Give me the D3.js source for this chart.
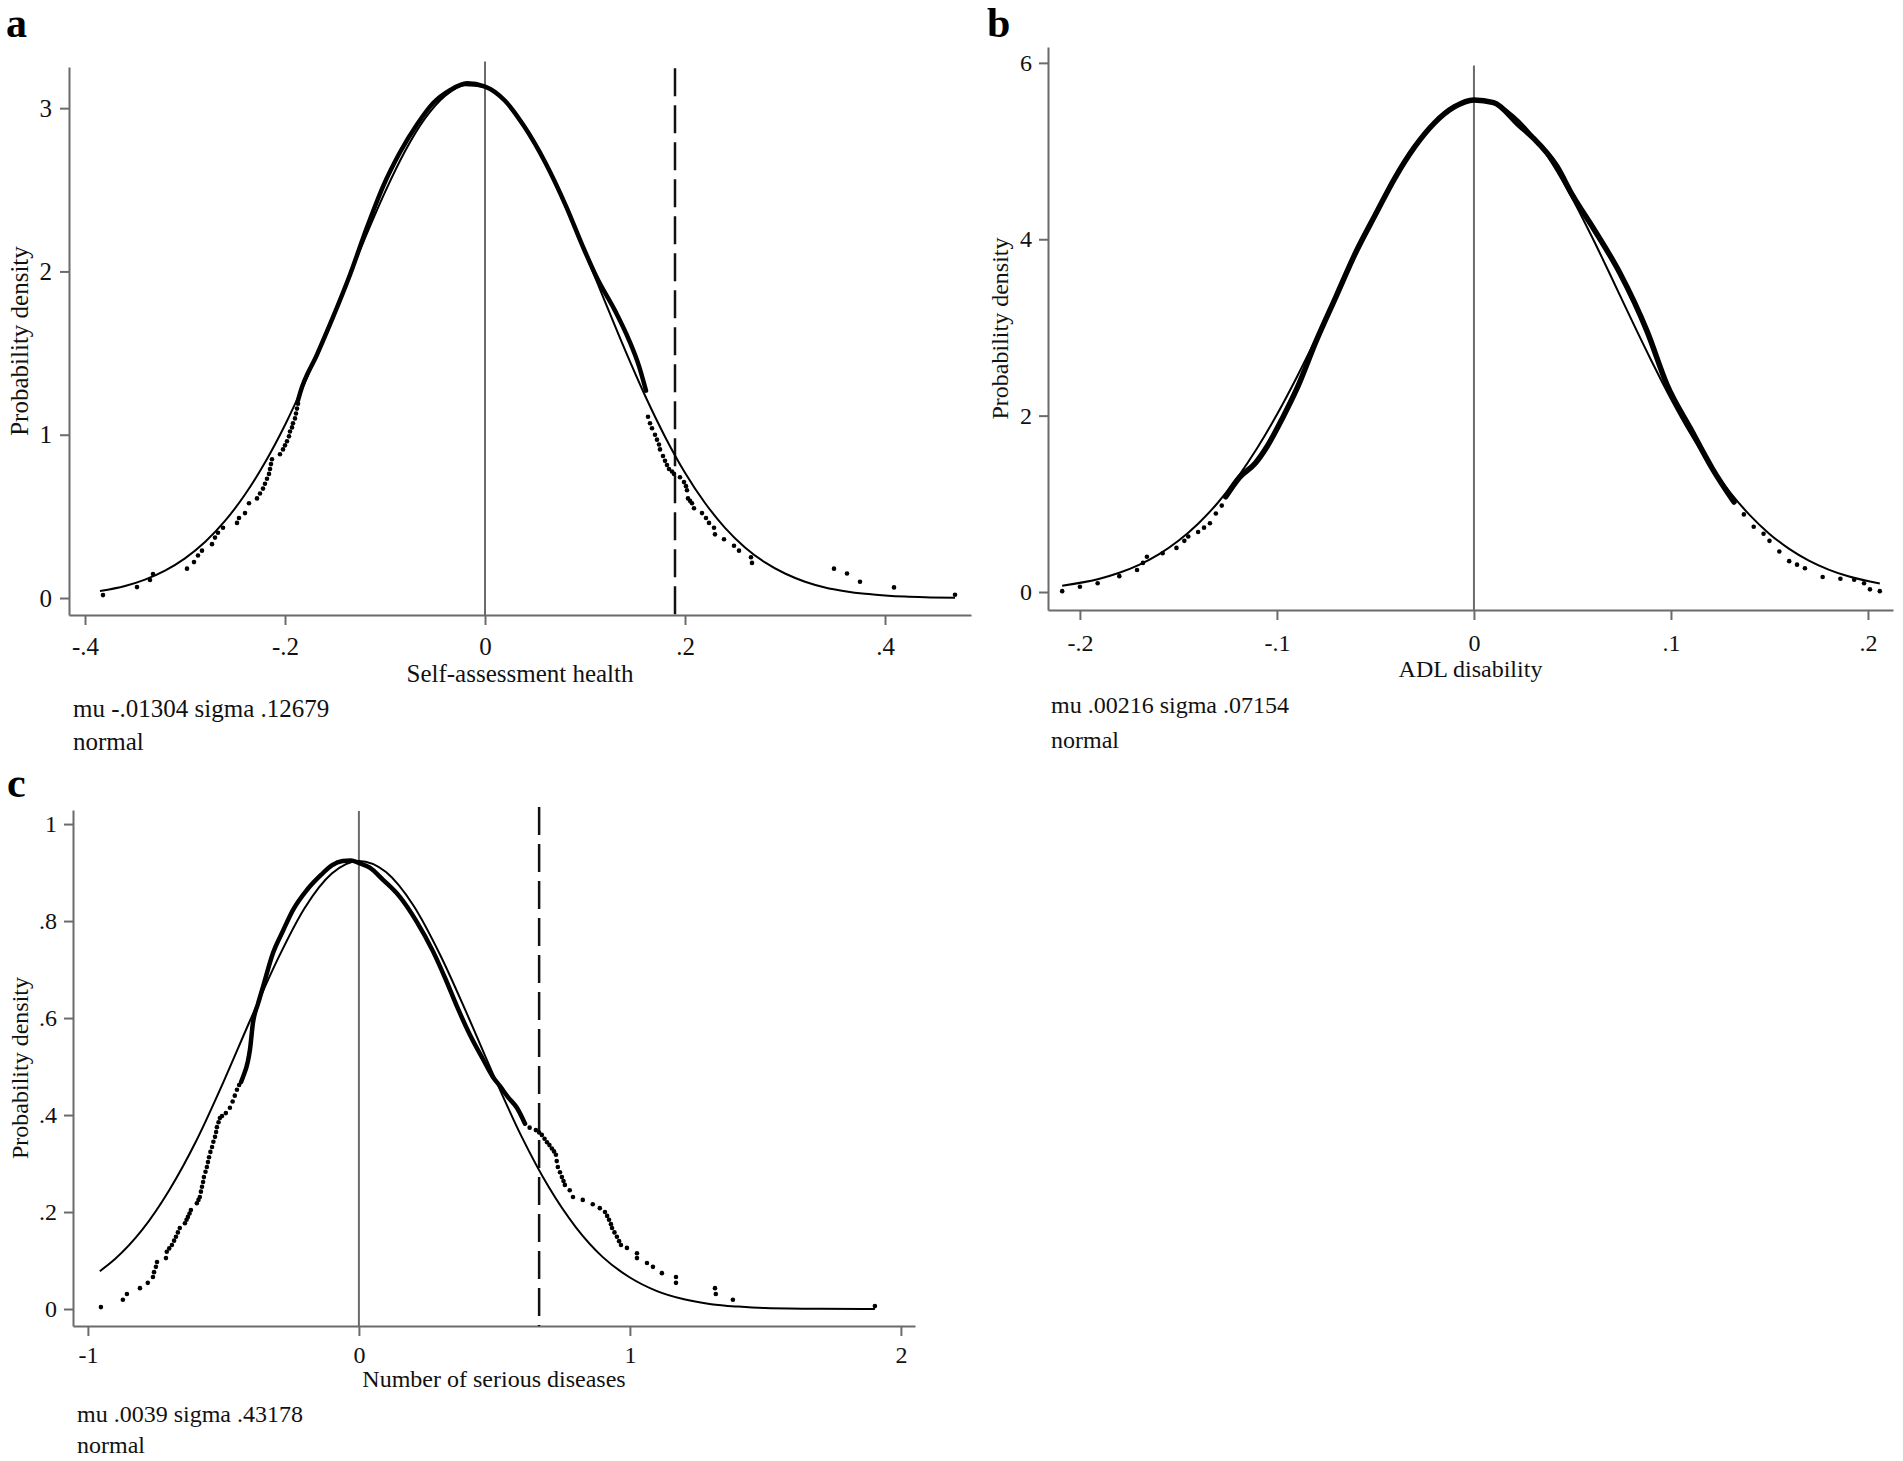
<!DOCTYPE html>
<html>
<head>
<meta charset="utf-8">
<script src="https://cdn.jsdelivr.net/npm/d3@7"></script>
<style>
  body { margin: 0; background: #fff; }
</style>
</head>
<body>
<div id="chart"></div>
<script>
// ---- panel a: self-assessment health ----
const aXTicks = [-0.4, -0.2, 0, 0.2, 0.4];
const aXLabels = ["-.4", "-.2", "0", ".2", ".4"];
const aYTicks = [0, 1, 2, 3];
const aYLabels = ["0", "1", "2", "3"];
const aNormX = [-0.385, -0.36, -0.34, -0.32, -0.30, -0.28, -0.26, -0.24, -0.22, -0.20, -0.18, -0.16, -0.14, -0.12, -0.10, -0.08, -0.06, -0.04, -0.02, 0, 0.02, 0.04, 0.06, 0.08, 0.10, 0.12, 0.14, 0.16, 0.18, 0.20, 0.22, 0.24, 0.26, 0.28, 0.30, 0.32, 0.34, 0.36, 0.38, 0.40, 0.42, 0.44, 0.47];
const aNormY = [0.043, 0.074, 0.113, 0.168, 0.243, 0.343, 0.472, 0.634, 0.830, 1.060, 1.322, 1.607, 1.905, 2.204, 2.486, 2.736, 2.937, 3.075, 3.141, 3.129, 3.041, 2.883, 2.666, 2.404, 2.115, 1.815, 1.519, 1.240, 0.988, 0.767, 0.582, 0.430, 0.310, 0.218, 0.150, 0.100, 0.065, 0.042, 0.026, 0.016, 0.009, 0.005, 0.002];
const aLineX = [-0.187, -0.185, -0.168, -0.152, -0.135, -0.118, -0.102, -0.085, -0.068, -0.052, -0.035, -0.018, 0.0, 0.02, 0.039, 0.060, 0.081, 0.098, 0.112, 0.130, 0.144, 0.154, 0.161];
const aLineY = [1.21, 1.254, 1.49, 1.72, 1.98, 2.27, 2.52, 2.73, 2.90, 3.03, 3.11, 3.152, 3.132, 3.045, 2.89, 2.67, 2.40, 2.15, 1.96, 1.76, 1.58, 1.42, 1.27];
const aDotX = [-0.382, -0.348, -0.335, -0.332, -0.298, -0.291, -0.287, -0.283, -0.273, -0.270, -0.267, -0.262, -0.248, -0.246, -0.240, -0.236, -0.228, -0.225, -0.222, -0.220, -0.218, -0.216, -0.215, -0.214, -0.213, -0.205, -0.202, -0.200, -0.198, -0.196, -0.195, -0.193, -0.192, -0.190, -0.189, -0.188, -0.187,
  0.163, 0.165, 0.167, 0.170, 0.172, 0.174, 0.175, 0.178, 0.180, 0.182, 0.184, 0.187, 0.189, 0.195, 0.199, 0.201, 0.202, 0.203, 0.205, 0.207, 0.209, 0.217, 0.221, 0.224, 0.229, 0.230, 0.239, 0.249, 0.254, 0.266, 0.267, 0.349, 0.362, 0.375, 0.409, 0.47];
const aDotY = [0.018, 0.067, 0.110, 0.147, 0.180, 0.220, 0.260, 0.290, 0.330, 0.370, 0.400, 0.430, 0.460, 0.490, 0.520, 0.580, 0.610, 0.640, 0.670, 0.700, 0.730, 0.760, 0.790, 0.820, 0.850, 0.880, 0.910, 0.935, 0.960, 0.990, 1.020, 1.045, 1.070, 1.100, 1.130, 1.160, 1.190,
  1.11, 1.07, 1.04, 1.00, 0.97, 0.94, 0.91, 0.87, 0.84, 0.815, 0.79, 0.775, 0.76, 0.74, 0.71, 0.685, 0.66, 0.61, 0.595, 0.58, 0.55, 0.52, 0.49, 0.46, 0.43, 0.39, 0.36, 0.32, 0.29, 0.25, 0.215, 0.18, 0.15, 0.10, 0.065, 0.02];
const aDashX = 0.19;
const aXTitle = "Self-assessment health";
const aNote = "mu -.01304 sigma .12679";

// ---- panel b: ADL disability ----
const bXTicks = [-0.2, -0.1, 0, 0.1, 0.2];
const bXLabels = ["-.2", "-.1", "0", ".1", ".2"];
const bYTicks = [0, 2, 4, 6];
const bYLabels = ["0", "2", "4", "6"];
const bNormX = [-0.209, -0.19, -0.18, -0.17, -0.16, -0.15, -0.14, -0.13, -0.12, -0.11, -0.10, -0.09, -0.08, -0.07, -0.06, -0.05, -0.04, -0.03, -0.02, -0.01, 0.0, 0.01, 0.02, 0.03, 0.04, 0.05, 0.06, 0.07, 0.08, 0.09, 0.10, 0.11, 0.12, 0.13, 0.14, 0.15, 0.16, 0.17, 0.18, 0.19, 0.206];
const bNormY = [0.072, 0.151, 0.218, 0.308, 0.427, 0.581, 0.775, 1.012, 1.298, 1.632, 2.012, 2.433, 2.884, 3.353, 3.824, 4.275, 4.688, 5.041, 5.315, 5.497, 5.574, 5.544, 5.406, 5.170, 4.849, 4.460, 4.022, 3.558, 3.085, 2.625, 2.189, 1.791, 1.436, 1.130, 0.872, 0.659, 0.489, 0.356, 0.254, 0.178, 0.096];
const bLineX = [-0.126, -0.119, -0.111, -0.105, -0.097, -0.09, -0.08, -0.07, -0.06, -0.05, -0.04, -0.03, -0.02, -0.01, 0.0, 0.01, 0.023, 0.03, 0.042, 0.05, 0.061, 0.074, 0.088, 0.098, 0.11, 0.121, 0.132];
const bLineY = [1.08, 1.30, 1.46, 1.65, 1.98, 2.30, 2.85, 3.35, 3.85, 4.28, 4.70, 5.05, 5.32, 5.50, 5.58, 5.55, 5.29, 5.15, 4.83, 4.50, 4.11, 3.62, 2.95, 2.35, 1.85, 1.40, 1.02];
const bDotX = [-0.209, -0.200, -0.191, -0.180, -0.171, -0.168, -0.166, -0.158, -0.151, -0.147, -0.145, -0.140, -0.137, -0.134, -0.131, -0.128,
  0.137, 0.142, 0.147, 0.150, 0.155, 0.160, 0.164, 0.168, 0.177, 0.186, 0.193, 0.198, 0.201, 0.206];
const bDotY = [0.01, 0.06, 0.10, 0.18, 0.25, 0.33, 0.40, 0.44, 0.50, 0.58, 0.63, 0.68, 0.73, 0.78, 0.89, 0.98,
  0.88, 0.74, 0.66, 0.58, 0.46, 0.35, 0.31, 0.27, 0.17, 0.15, 0.14, 0.10, 0.03, 0.01];
const bXTitle = "ADL disability";
const bNote = "mu .00216 sigma .07154";

// ---- panel c: number of serious diseases ----
const cXTicks = [-1, 0, 1, 2];
const cXLabels = ["-1", "0", "1", "2"];
const cYTicks = [0, 0.2, 0.4, 0.6, 0.8, 1];
const cYLabels = ["0", ".2", ".4", ".6", ".8", "1"];
const cNormX = [-0.956, -0.9, -0.8, -0.7, -0.6, -0.5, -0.4, -0.3, -0.2, -0.1, 0, 0.1, 0.2, 0.3, 0.4, 0.5, 0.6, 0.7, 0.8, 0.9, 1.0, 1.1, 1.2, 1.3, 1.4, 1.5, 1.7, 1.904];
const cNormY = [0.078, 0.103, 0.163, 0.245, 0.347, 0.468, 0.597, 0.721, 0.827, 0.898, 0.924, 0.901, 0.833, 0.730, 0.607, 0.478, 0.356, 0.252, 0.169, 0.107, 0.065, 0.037, 0.020, 0.010, 0.005, 0.002, 0.0004, 0.0];
const cLineX = [-0.435, -0.428, -0.41, -0.402, -0.391, -0.372, -0.354, -0.317, -0.28, -0.243, -0.192, -0.14, -0.10, -0.06, -0.03, 0.0, 0.04, 0.089, 0.151, 0.212, 0.273, 0.32, 0.361, 0.41, 0.458, 0.495, 0.52, 0.55, 0.583, 0.613];
const cLineY = [0.468, 0.478, 0.51, 0.535, 0.59, 0.63, 0.664, 0.734, 0.78, 0.823, 0.864, 0.895, 0.915, 0.924, 0.925, 0.92, 0.91, 0.885, 0.85, 0.80, 0.738, 0.68, 0.625, 0.565, 0.515, 0.478, 0.46, 0.437, 0.415, 0.382];
const cDotX = [-0.952, -0.871, -0.856, -0.808, -0.779, -0.760, -0.756, -0.749, -0.745, -0.712, -0.709, -0.700, -0.690, -0.682, -0.675, -0.668, -0.661, -0.642, -0.636, -0.631, -0.625, -0.620, -0.598, -0.592, -0.587, -0.583, -0.579, -0.575, -0.572, -0.566, -0.561, -0.557, -0.553, -0.548, -0.542, -0.537, -0.531, -0.527, -0.524, -0.518, -0.513, -0.505, -0.491, -0.476, -0.466, -0.458, -0.450, -0.442,
  0.630, 0.653, 0.665, 0.675, 0.685, 0.694, 0.703, 0.712, 0.720, 0.727, 0.730, 0.734, 0.742, 0.749, 0.755, 0.760, 0.778, 0.790, 0.826, 0.863, 0.889, 0.908, 0.916, 0.923, 0.930, 0.934, 0.943, 0.952, 0.960, 0.967, 0.989, 1.026, 1.026, 1.063, 1.085, 1.118, 1.170, 1.170, 1.314, 1.317, 1.380, 1.904];
const cDotY = [0.004, 0.019, 0.031, 0.043, 0.054, 0.066, 0.076, 0.087, 0.097, 0.105, 0.118, 0.125, 0.132, 0.141, 0.149, 0.158, 0.167, 0.177, 0.184, 0.190, 0.197, 0.204, 0.218, 0.225, 0.231, 0.242, 0.252, 0.262, 0.272, 0.283, 0.293, 0.303, 0.313, 0.324, 0.334, 0.345, 0.355, 0.365, 0.375, 0.385, 0.394, 0.398, 0.404, 0.415, 0.428, 0.440, 0.452, 0.462,
  0.374, 0.369, 0.364, 0.359, 0.351, 0.344, 0.338, 0.331, 0.325, 0.318, 0.305, 0.293, 0.282, 0.272, 0.264, 0.256, 0.245, 0.231, 0.225, 0.216, 0.208, 0.200, 0.192, 0.184, 0.175, 0.167, 0.158, 0.149, 0.140, 0.132, 0.126, 0.115, 0.105, 0.095, 0.087, 0.074, 0.066, 0.054, 0.043, 0.031, 0.019, 0.006];
const cDashX = 0.665;
const cXTitle = "Number of serious diseases";
const cNote = "mu .0039 sigma .43178";

const distName = "normal";
const yTitle = "Probability density";

const W = 1903;
const H = 1461;
const serif = "'Liberation Serif', 'Times New Roman', serif";
const axisColor = "#6b6b6b";

const zip = (xs, ys) => xs.map((v, i) => [v, ys[i]]);

// layout per panel (pixel boxes of the plot region)
const panels = [
  {
    id: "a", labelX: 6, labelY: 37, fs: 25,
    left: 69, right: 971, top: 67, bottom: 615,
    xDomain: [-0.416, 0.486], yDomain: [-0.104, 3.252],
    xTicks: aXTicks, xLabels: aXLabels, yTicks: aYTicks, yLabels: aYLabels,
    norm: zip(aNormX, aNormY), line: zip(aLineX, aLineY), dots: zip(aDotX, aDotY),
    zeroTop: 3.285, dashX: aDashX, dashTop: 3.245,
    xTitle: aXTitle, note: aNote,
    xTitleY: 682, noteX: 73, noteY: 717, note2Y: 750, yTitleX: 28,
    xPad: 12, yPad: 8, lineW: 4.5
  },
  {
    id: "b", labelX: 987, labelY: 37, fs: 24,
    left: 1048, right: 1893, top: 47, bottom: 610,
    xDomain: [-0.2162, 0.2127], yDomain: [-0.204, 6.18],
    xTicks: bXTicks, xLabels: bXLabels, yTicks: bYTicks, yLabels: bYLabels,
    norm: zip(bNormX, bNormY), line: zip(bLineX, bLineY), dots: zip(bDotX, bDotY),
    zeroTop: 5.97, dashX: null,
    xTitle: bXTitle, note: bNote,
    xTitleY: 677, noteX: 1051, noteY: 713, note2Y: 748, yTitleX: 1008,
    xPad: 14, yPad: 7, lineW: 5.5
  },
  {
    id: "c", labelX: 7, labelY: 797, fs: 24,
    left: 73, right: 915, top: 810, bottom: 1326,
    xDomain: [-1.055, 2.052], yDomain: [-0.035, 1.029],
    xTicks: cXTicks, xLabels: cXLabels, yTicks: cYTicks, yLabels: cYLabels,
    norm: zip(cNormX, cNormY), line: zip(cLineX, cLineY), dots: zip(cDotX, cDotY),
    zeroTop: 1.027, dashX: cDashX, dashTop: 1.035,
    xTitle: cXTitle, note: cNote,
    xTitleY: 1387, noteX: 77, noteY: 1422, note2Y: 1453, yTitleX: 28,
    xPad: 10, yPad: 7, lineW: 4.5
  }
];

const svg = d3.select("#chart")
  .append("svg")
  .attr("width", W)
  .attr("height", H)
  .style("background", "#fff")
  .style("display", "block");

function drawPanel(p) {
  const x = d3.scaleLinear().domain(p.xDomain).range([p.left, p.right]);
  const y = d3.scaleLinear().domain(p.yDomain).range([p.bottom, p.top]);
  const g = svg.append("g").attr("id", "panel-" + p.id);

  // x axis
  const xAxis = d3.axisBottom(x)
    .tickValues(p.xTicks)
    .tickFormat((d, i) => p.xLabels[i])
    .tickSize(10)
    .tickSizeOuter(0)
    .tickPadding(p.xPad);
  const gx = g.append("g")
    .attr("transform", `translate(0,${p.bottom})`)
    .call(xAxis)
    .attr("font-size", p.fs)
    .attr("font-family", serif);

  // y axis
  const yAxis = d3.axisLeft(y)
    .tickValues(p.yTicks)
    .tickFormat((d, i) => p.yLabels[i])
    .tickSize(9)
    .tickSizeOuter(0)
    .tickPadding(p.yPad);
  const gy = g.append("g")
    .attr("transform", `translate(${p.left},0)`)
    .call(yAxis)
    .attr("font-size", p.fs)
    .attr("font-family", serif);

  [gx, gy].forEach(ax => {
    ax.selectAll("path, line").attr("stroke", axisColor).attr("stroke-width", 2);
    ax.selectAll("text").attr("fill", "#111");
  });

  // reference line at zero
  g.append("line")
    .attr("x1", x(0)).attr("x2", x(0))
    .attr("y1", y(p.zeroTop)).attr("y2", p.bottom)
    .attr("stroke", axisColor)
    .attr("stroke-width", 2);

  // dashed cut-off line
  if (p.dashX !== null) {
    g.append("line")
      .attr("x1", x(p.dashX)).attr("x2", x(p.dashX))
      .attr("y1", y(p.dashTop)).attr("y2", p.bottom)
      .attr("stroke", "#111")
      .attr("stroke-width", 2.5)
      .attr("stroke-dasharray", "28 9");
  }

  const line = d3.line()
    .x(d => x(d[0]))
    .y(d => y(d[1]))
    .curve(d3.curveMonotoneX);

  // fitted normal density
  g.append("path")
    .datum(p.norm)
    .attr("d", line)
    .attr("fill", "none")
    .attr("stroke", "#000")
    .attr("stroke-width", 2);

  // empirical density, dense part
  g.append("path")
    .datum(p.line)
    .attr("d", line)
    .attr("fill", "none")
    .attr("stroke", "#000")
    .attr("stroke-width", p.lineW)
    .attr("stroke-linecap", "round")
    .attr("stroke-linejoin", "round");

  // empirical density, sparse points
  g.selectAll("circle.dot")
    .data(p.dots)
    .enter()
    .append("circle")
    .attr("class", "dot")
    .attr("cx", d => x(d[0]))
    .attr("cy", d => y(d[1]))
    .attr("r", 2.3)
    .attr("fill", "#000");

  // titles and notes
  g.append("text")
    .attr("x", (p.left + p.right) / 2)
    .attr("y", p.xTitleY)
    .attr("text-anchor", "middle")
    .attr("font-family", serif)
    .attr("font-size", p.fs)
    .attr("fill", "#111")
    .text(p.xTitle);

  g.append("text")
    .attr("transform", `translate(${p.yTitleX},${(p.top + p.bottom) / 2}) rotate(-90)`)
    .attr("text-anchor", "middle")
    .attr("font-family", serif)
    .attr("font-size", p.fs)
    .attr("fill", "#111")
    .text(yTitle);

  g.append("text")
    .attr("x", p.noteX)
    .attr("y", p.noteY)
    .attr("font-family", serif)
    .attr("font-size", p.fs)
    .attr("fill", "#111")
    .text(p.note);

  g.append("text")
    .attr("x", p.noteX)
    .attr("y", p.note2Y)
    .attr("font-family", serif)
    .attr("font-size", p.fs)
    .attr("fill", "#111")
    .text(distName);

  // panel letter
  g.append("text")
    .attr("x", p.labelX)
    .attr("y", p.labelY)
    .attr("font-family", serif)
    .attr("font-size", 42)
    .attr("font-weight", "bold")
    .attr("fill", "#000")
    .text(p.id);
}

panels.forEach(drawPanel);
</script>
</body>
</html>
